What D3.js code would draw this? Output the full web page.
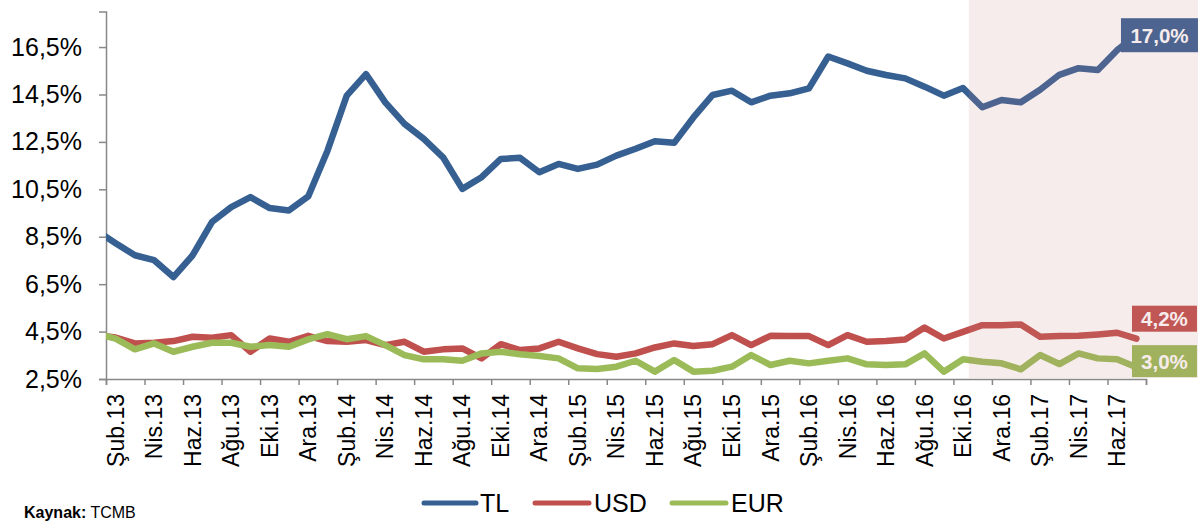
<!DOCTYPE html>
<html><head><meta charset="utf-8">
<script src="https://cdn.jsdelivr.net/npm/d3@7"></script>
<style>
body{margin:0;background:#fff}
text{font-family:"Liberation Sans",Arial,sans-serif}
</style>
</head><body>
<svg id="c" width="1203" height="523"></svg>
<script>
// Months (first one, Oca.13, lies just left of the axis and is clipped)
const months = [
 "Oca.13","Şub.13","Mar.13","Nis.13","May.13","Haz.13","Tem.13","Ağu.13","Eyl.13","Eki.13","Kas.13","Ara.13",
 "Oca.14","Şub.14","Mar.14","Nis.14","May.14","Haz.14","Tem.14","Ağu.14","Eyl.14","Eki.14","Kas.14","Ara.14",
 "Oca.15","Şub.15","Mar.15","Nis.15","May.15","Haz.15","Tem.15","Ağu.15","Eyl.15","Eki.15","Kas.15","Ara.15",
 "Oca.16","Şub.16","Mar.16","Nis.16","May.16","Haz.16","Tem.16","Ağu.16","Eyl.16","Eki.16","Kas.16","Ara.16",
 "Oca.17","Şub.17","Mar.17","Nis.17","May.17","Haz.17","Tem.17"
];
const tlValues = [8.75,
 8.23,7.72,7.51,6.80,7.72,9.12,9.75,10.17,9.71,9.61,10.20,12.13,
 14.45,15.36,14.17,13.26,12.63,11.85,10.52,11.01,11.78,11.83,11.22,11.57,
 11.36,11.54,11.92,12.21,12.53,12.46,13.53,14.48,14.66,14.17,14.45,14.55,
 14.76,16.10,15.81,15.50,15.32,15.18,14.83,14.45,14.77,13.96,14.27,14.17,
 14.70,15.33,15.61,15.53,16.37,17.0];
const usdValues = [4.35,
 4.25,4.00,4.03,4.10,4.28,4.24,4.35,3.65,4.21,4.07,4.32,4.10,
 4.07,4.14,3.93,4.07,3.65,3.75,3.79,3.37,3.97,3.72,3.79,4.07,
 3.79,3.55,3.44,3.58,3.83,4.00,3.89,3.97,4.35,3.93,4.32,4.31,
 4.31,3.93,4.35,4.07,4.10,4.17,4.67,4.21,4.49,4.77,4.77,4.80,
 4.28,4.31,4.32,4.38,4.45,4.2];
const eurValues = [4.42,
 4.20,3.75,4.00,3.65,3.86,4.03,4.03,3.86,3.93,3.86,4.17,4.39,
 4.18,4.31,3.93,3.51,3.33,3.33,3.27,3.58,3.65,3.54,3.47,3.37,
 2.95,2.92,3.02,3.27,2.81,3.30,2.81,2.85,3.02,3.51,3.09,3.27,
 3.16,3.27,3.37,3.12,3.09,3.12,3.58,2.81,3.33,3.23,3.16,2.91,
 3.51,3.13,3.58,3.37,3.33,3.0];
const seriesNames = ["TL","USD","EUR"];
const seriesColors = ["#376092","#c0504d","#9bbb59"];
const endLabels = ["17,0%","4,2%","3,0%"];
const yTicks = [2.5,4.5,6.5,8.5,10.5,12.5,14.5,16.5];
const shadeFromMonth = "Kas.16";
const sourceBold = "Kaynak:";
const sourceText = " TCMB";

(function () {
const svg = d3.select("#c");
const pLeft = 106, pRight = 1146, pTop = 11.5, pBottom = 379;
const x = d3.scaleLinear().domain([0.5, months.length - 0.5]).range([pLeft, pRight]);
const y = d3.scaleLinear().domain([2.5, 18]).range([pBottom, pTop]);

// clip
svg.append("defs").append("clipPath").attr("id","plot")
  .append("rect").attr("x", pLeft).attr("y", 0).attr("width", pRight - pLeft + 60).attr("height", pBottom);

// axes
const yAxis = d3.axisLeft(y).tickValues(yTicks).tickSize(7).tickPadding(17)
  .tickFormat(d => d.toFixed(1).replace(".", ",") + "%");
const gy = svg.append("g").attr("transform", `translate(${pLeft},0)`).call(yAxis);
gy.select(".domain").attr("stroke", "#888").attr("stroke-width", 1.5);
gy.selectAll(".tick line").attr("stroke", "#888").attr("stroke-width", 1.5);
gy.selectAll(".tick text").attr("font-size", 25).attr("fill", "#000")
  .attr("font-family", '"Liberation Sans",Arial,sans-serif');

const tickIdx = d3.range(0.5, months.length, 2);
const xAxis = d3.axisBottom(x).tickValues(tickIdx).tickSize(6).tickFormat("");
const gx = svg.append("g").attr("transform", `translate(0,${pBottom})`).call(xAxis);
gx.select(".domain").attr("stroke", "#888").attr("stroke-width", 1.5);
gx.selectAll(".tick line").attr("stroke", "#888").attr("stroke-width", 1.5);

const labelIdx = d3.range(1, months.length, 2);
svg.append("g").selectAll("text").data(labelIdx).join("text")
  .attr("transform", i => `translate(${x(i)},${pBottom + 15}) rotate(-90)`)
  .attr("text-anchor", "end").attr("dy", "0.35em")
  .attr("font-size", 23).attr("fill", "#000")
  .text(i => months[i]);

// lines
const allSeries = [tlValues, usdValues, eurValues];
const line = d3.line().x((d, i) => x(i)).y(d => y(d)).curve(d3.curveLinear);
const lg = svg.append("g").attr("clip-path", "url(#plot)");
allSeries.forEach((vals, k) => {
  lg.append("path").datum(vals).attr("d", line)
    .attr("fill", "none").attr("stroke", seriesColors[k])
    .attr("stroke-width", 6.5).attr("stroke-linejoin", "round").attr("stroke-linecap", "round");
});

// end labels
const last = months.length - 1;
const lx = x(last);
const boxes = [
  {dx: -15.4, w: 77, dy: -17, h: 34},
  {dx: -4.4, w: 65, dy: -33, h: 26},
  {dx: -4.4, w: 65, dy: -22, h: 32}
];
allSeries.forEach((vals, k) => {
  const b = boxes[k];
  const py = y(vals[last]);
  svg.append("rect").attr("x", lx + b.dx).attr("y", py + b.dy)
    .attr("width", b.w).attr("height", b.h).attr("fill", seriesColors[k]);
  svg.append("text").attr("x", lx + b.dx + b.w / 2).attr("y", py + b.dy + b.h / 2)
    .attr("dy", "0.36em").attr("text-anchor", "middle")
    .attr("font-size", 20.5).attr("font-weight", "bold").attr("fill", "#fff")
    .text(endLabels[k]);
});

// shaded region (drawn over, semi-transparent)
const shadeX = x(months.indexOf(shadeFromMonth) - 0.7);
svg.append("rect").attr("x", shadeX).attr("y", 0)
  .attr("width", 1198 - shadeX).attr("height", pBottom - 1)
  .attr("fill", "rgb(200,130,130)").attr("fill-opacity", 0.15);

// legend
const legend = [
  {x1: 422, x2: 478, tx: 480},
  {x1: 533, x2: 591, tx: 594},
  {x1: 670, x2: 728, tx: 731}
];
legend.forEach((L, k) => {
  svg.append("line").attr("x1", L.x1 + 2).attr("x2", L.x2 - 2).attr("y1", 503).attr("y2", 503)
    .attr("stroke", seriesColors[k]).attr("stroke-width", 5).attr("stroke-linecap", "round");
  svg.append("text").attr("x", L.tx).attr("y", 512).attr("font-size", 25).attr("fill", "#000")
    .text(seriesNames[k]);
});

// source
const st = svg.append("text").attr("x", 24).attr("y", 518).attr("font-size", 16).attr("fill", "#000");
st.append("tspan").attr("font-weight", "bold").text(sourceBold);
st.append("tspan").text(sourceText);
})();
</script>
</body></html>
